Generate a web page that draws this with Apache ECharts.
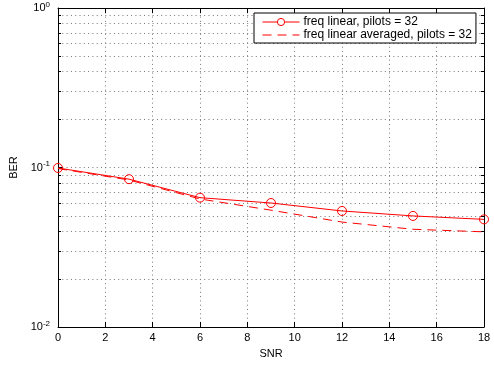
<!DOCTYPE html>
<html>
<head>
<meta charset="utf-8">
<script src="https://cdn.jsdelivr.net/npm/echarts@6/dist/echarts.min.js"></script>
<style>
  html, body { margin: 0; padding: 0; background: #fff; }
  #chart { width: 494px; height: 369px; }
</style>
</head>
<body>
<div id="chart"></div>
<script>
// SNR sample points and measured bit error rates
const snr = [0, 3, 6, 9, 12, 15, 18];
const berLinear = [0.0993, 0.0845, 0.0647, 0.0599, 0.0534, 0.0497, 0.0473];
const berLinearAvg = [0.0985, 0.0835, 0.0635, 0.0540, 0.0455, 0.0410, 0.0395];
const seriesNames = ['freq linear, pilots = 32', 'freq linear averaged, pilots = 32'];
// log-decade minor grid positions
const minorTicks = [0.02, 0.03, 0.04, 0.05, 0.06, 0.07, 0.08, 0.09,
                    0.2, 0.3, 0.4, 0.5, 0.6, 0.7, 0.8, 0.9];

const FONT = 'Liberation Sans, Arial, Helvetica, sans-serif';
const RED = '#ff0000';
const GRID_COLOR = '#777';
const DOTS = [1, 3.3];

function pair(xs, ys) { return xs.map((x, i) => [x, ys[i]]); }

function powLabel(v) {
  const e = Math.round(Math.log10(v));
  return '{b|10}{s|' + e + '}';
}

const chart = echarts.init(document.getElementById('chart'), null, { renderer: 'canvas' });

const xCommon = {
  type: 'value', min: 0, max: 18, interval: 2,
  axisLine: { show: true, onZero: false, lineStyle: { color: '#000', width: 1 } },
  axisTick: { show: true, inside: true, length: 5, lineStyle: { color: '#000' } }
};
const yCommon = {
  type: 'log', logBase: 10, min: 0.01, max: 1,
  axisLine: { show: true, onZero: false, lineStyle: { color: '#000', width: 1 } },
  axisTick: { show: true, inside: true, length: 5, lineStyle: { color: '#000' } },
  minorTick: { show: false },
  minorSplitLine: { show: false }
};

chart.setOption({
  animation: false,
  backgroundColor: '#fff',
  grid: { left: 58, right: 10, top: 8, bottom: 42, containLabel: false },
  xAxis: [
    Object.assign({}, xCommon, {
      position: 'bottom',
      name: 'SNR', nameLocation: 'middle', nameGap: 21,
      nameTextStyle: { fontFamily: FONT, fontSize: 11, color: '#000' },
      axisLabel: { fontFamily: FONT, fontSize: 11, color: '#000', margin: 5 },
      splitLine: { show: true, lineStyle: { color: GRID_COLOR, type: DOTS, width: 1 } }
    }),
    Object.assign({}, xCommon, {
      position: 'top',
      axisLabel: { show: false },
      splitLine: { show: false }
    })
  ],
  yAxis: [
    Object.assign({}, yCommon, {
      position: 'left',
      name: 'BER', nameLocation: 'middle', nameGap: 31, nameRotate: 90,
      nameTextStyle: { fontFamily: FONT, fontSize: 11, color: '#000' },
      axisLabel: {
        margin: 8,
        formatter: powLabel,
        rich: {
          b: { fontFamily: FONT, fontSize: 11, color: '#000' },
          s: { fontFamily: FONT, fontSize: 8, color: '#000', padding: [0, 0, 7, 0] }
        }
      },
      splitLine: { show: true, lineStyle: { color: GRID_COLOR, type: DOTS, width: 1 } }
    }),
    Object.assign({}, yCommon, {
      position: 'right',
      axisLabel: { show: false },
      splitLine: { show: false }
    })
  ],
  legend: {
    left: 254, top: 13,
    orient: 'vertical',
    backgroundColor: '#fff',
    borderColor: '#000', borderWidth: 1, borderRadius: 0,
    padding: [3, 4, 2, 8],
    itemGap: 1,
    itemWidth: 37, itemHeight: 9,
    lineStyle: { width: 1 },
    itemStyle: { borderWidth: 1 },
    textStyle: { fontFamily: FONT, fontSize: 12, color: '#000', padding: [0, 0, 0, -1] },
    data: [
      { name: seriesNames[0],
        itemStyle: { color: '#fff', borderColor: RED, borderWidth: 1 } },
      { name: seriesNames[1], itemStyle: { opacity: 0 } }
    ]
  },
  series: [
    {
      // dotted minor grid lines plus inward minor ticks on both vertical edges
      type: 'custom',
      xAxisIndex: 0, yAxisIndex: 0,
      silent: true, z: 1,
      data: minorTicks.map(v => [0, v]),
      encode: { x: 0, y: 1 },
      renderItem: function (params, api) {
        const cs = params.coordSys;
        const y = Math.round(api.coord([0, api.value(1)])[1]) + 0.5;
        const x0 = cs.x, x1 = cs.x + cs.width;
        return {
          type: 'group',
          children: [
            { type: 'line', shape: { x1: x0, y1: y, x2: x1, y2: y },
              style: { stroke: GRID_COLOR, lineWidth: 1, lineDash: DOTS } },
            { type: 'line', shape: { x1: x0, y1: y, x2: x0 + 3, y2: y },
              style: { stroke: '#000', lineWidth: 1 } },
            { type: 'line', shape: { x1: x1 - 3, y1: y, x2: x1, y2: y },
              style: { stroke: '#000', lineWidth: 1 } }
          ]
        };
      }
    },
    {
      name: seriesNames[0],
      type: 'line',
      xAxisIndex: 0, yAxisIndex: 0,
      data: pair(snr, berLinear),
      symbol: 'circle', symbolSize: 9, showAllSymbol: true,
      itemStyle: { color: 'rgba(255,255,255,0)', borderColor: RED, borderWidth: 1 },
      lineStyle: { color: RED, width: 1 },
      z: 3
    },
    {
      name: seriesNames[1],
      type: 'line',
      xAxisIndex: 0, yAxisIndex: 0,
      data: pair(snr, berLinearAvg),
      symbol: 'none',
      itemStyle: { color: RED },
      lineStyle: { color: RED, width: 1, type: [9, 6] },
      z: 2
    }
  ]
});
</script>
</body>
</html>
